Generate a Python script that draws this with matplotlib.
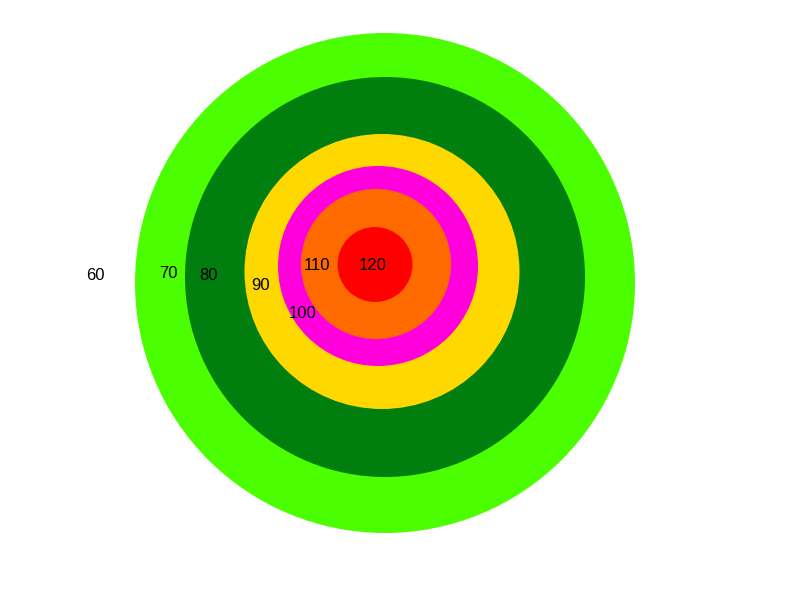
import matplotlib
matplotlib.use("Agg")
import matplotlib.pyplot as plt
from matplotlib.patches import Circle

# contour levels, outermost first
levels = [60, 70, 80, 90, 100, 110, 120]
colors = [None, "#4CFF00", "#007F0E", "#FFD800", "#FF00DC", "#FF6A00", "#FF0000"]
center_x = [None, 385, 385, 382, 378, 376, 375]
center_y = [None, 283, 277, 271.5, 266, 264, 264.5]
radius = [None, 250, 200, 137.5, 100, 75, 37.5]

# label positions
label_x = [95.5, 168, 208, 260.5, 302.5, 317, 372.5]
label_y = [275.5, 274, 276, 286, 314, 265.5, 266]

fig = plt.figure(figsize=(8, 6), dpi=100)
ax = fig.add_axes([0, 0, 1, 1])
ax.set_xlim(0, 800)
ax.set_ylim(600, 0)
ax.set_aspect("equal")
ax.axis("off")

for cx, cy, r, c in zip(center_x, center_y, radius, colors):
    if r is None:
        continue
    ax.add_patch(Circle((cx, cy), r, facecolor=c, edgecolor="none"))

for lv, x, y in zip(levels, label_x, label_y):
    ax.text(x, y, str(lv), ha="center", va="center", fontsize=12,
            family="Liberation Sans", color="black")

plt.savefig("out.png", dpi=100)
plt.close()
